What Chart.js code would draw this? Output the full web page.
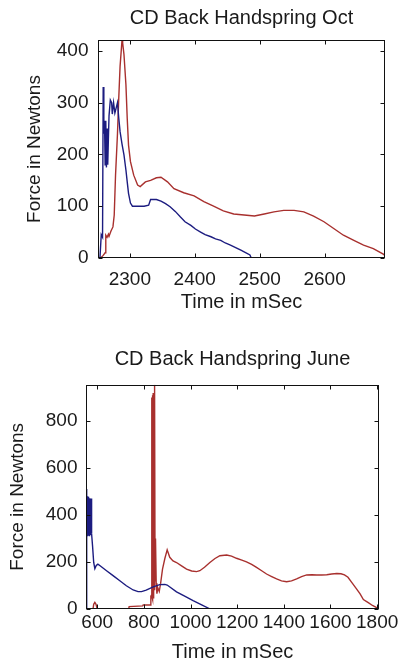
<!DOCTYPE html>
<html>
<head>
<meta charset="utf-8">
<script src="https://cdn.jsdelivr.net/npm/chart.js@4"></script>
<style>
  body { margin: 0; background: #fff; }
  canvas { display: block; }
</style>
</head>
<body>
<canvas id="octChart" width="401" height="333"></canvas>
<canvas id="junChart" width="401" height="333"></canvas>
<script>
// --- October trial ---
const octXTicks = [2300, 2400, 2500, 2600];
const octYTicks = [0, 100, 200, 300, 400];

const octBlueTime = [2254, 2256, 2258, 2259, 2260, 2261, 2262, 2263, 2264, 2265, 2266, 2267, 2268, 2270, 2272, 2273, 2275, 2277, 2279, 2281,
  2283, 2285, 2288, 2291, 2294, 2296, 2298, 2301, 2304, 2313, 2322, 2329, 2332, 2341, 2348, 2355, 2362, 2370, 2378, 2385,
  2394, 2401, 2409, 2416, 2425, 2432, 2440, 2447, 2455, 2463, 2471, 2479, 2485, 2487];
const octBlueForce = [0, 45, 40, 330, 240, 265, 180, 265, 175, 250, 180, 230, 275, 305, 300, 278, 300, 280, 290, 300,
  270, 244, 220, 199, 170, 147, 125, 106, 100, 100, 100, 102, 113, 113, 110, 105, 99, 90, 79, 70,
  63, 56, 50, 45, 41, 37, 34, 29, 25, 20, 15, 10, 6, 0];

const octRedTime = [2255, 2259, 2262, 2263, 2265, 2267, 2268, 2271, 2274, 2276, 2278, 2281, 2283, 2285, 2288, 2289, 2291, 2294, 2296, 2298,
  2301, 2306, 2312, 2316, 2324, 2332, 2341, 2348, 2358, 2368, 2383, 2399, 2414, 2429, 2444, 2460, 2476, 2492, 2507, 2522,
  2537, 2553, 2568, 2583, 2599, 2614, 2629, 2645, 2660, 2675, 2691, 2693];
const octRedForce = [0, 5, 10, 44, 40, 46, 42, 52, 60, 83, 160, 240, 310, 370, 421, 415, 393, 335, 270, 218,
  186, 160, 141, 138, 147, 150, 155, 156, 147, 134, 126, 120, 109, 100, 91, 85, 83, 81, 85, 89,
  92, 92, 89, 81, 70, 57, 44, 34, 25, 18, 7, 4];

// --- June trial ---
const junXTicks = [600, 800, 1000, 1200, 1400, 1600, 1800];
const junYTicks = [0, 200, 400, 600, 800];

const junBlueTime = [552, 554, 555, 556, 557, 558, 559, 560, 561, 562, 563, 564, 565, 566, 567, 568, 569, 570, 571, 572,
  573, 574, 575, 577, 580, 585, 590, 596, 603, 611, 640, 668, 697, 725, 754, 775, 790, 810, 840, 868,
  890, 900, 940, 975, 1011, 1050, 1080, 1083];
const junBlueForce = [0, 0, 511, 330, 480, 315, 475, 310, 478, 312, 470, 315, 472, 310, 470, 315, 468, 318, 470, 320,
  465, 330, 470, 320, 270, 198, 172, 185, 191, 185, 163, 142, 120, 99, 81, 74, 74, 80, 94, 104,
  105, 102, 73, 55, 36, 17, 2, 0];

const junRedTime = [552, 582, 585, 590, 595, 600, 735, 737, 795, 797, 828, 830, 833,
  834, 835, 836, 837, 838, 839, 840, 841, 842, 843, 844, 845, 846, 847, 848, 850,
  853, 856, 860, 866, 872, 880, 890, 900, 911, 925, 940, 960, 983, 1005, 1026, 1040, 1060, 1083, 1105, 1126,
  1155, 1176, 1197, 1220, 1240, 1262, 1283, 1305, 1326, 1348, 1369, 1390, 1412, 1433, 1455, 1476, 1498, 1520, 1541, 1562,
  1584, 1605, 1627, 1645, 1660, 1675, 1691, 1710, 1727, 1741, 1762, 1780, 1798, 1808];
const junRedForce = [0, 0, 20, 28, 20, 0, 0, 10, 13, 17, 17, 55, 60,
  900, 50, 910, 40, 905, 60, 920, 45, 915, 70, 910, 80, 900, 955, 120, 300,
  110, 65, 90, 75, 110, 170, 215, 252, 220, 205, 198, 185, 170, 162, 159, 163, 178, 198, 215, 227,
  230, 225, 216, 208, 201, 190, 177, 163, 149, 138, 128, 120, 116, 120, 128, 138, 145, 146, 145, 145,
  146, 149, 151, 150, 145, 135, 113, 88, 64, 40, 27, 15, 6, 2];

const BLUE = '#1c1c80';
const RED = '#a8302e';

Chart.defaults.font.family = '"Liberation Sans", Arial, Helvetica, sans-serif';
Chart.defaults.color = '#1a1a1a';

// MATLAB-like box with inward ticks on all four sides
const boxTicks = {
  id: 'boxTicks',
  afterDraw(chart) {
    const { ctx, chartArea: a, scales: { x, y } } = chart;
    const L = Math.round(a.left) + 0.5, R = Math.round(a.right) - 0.5;
    const T = Math.round(a.top) + 0.5, B = Math.round(a.bottom) - 0.5;
    const len = 4;
    ctx.save();
    ctx.strokeStyle = '#111';
    ctx.lineWidth = 1;
    ctx.strokeRect(L, T, R - L, B - T);
    ctx.beginPath();
    x.ticks.forEach(t => {
      const px = Math.round(x.getPixelForValue(t.value)) + 0.5;
      ctx.moveTo(px, B); ctx.lineTo(px, B - len);
      ctx.moveTo(px, T); ctx.lineTo(px, T + len);
    });
    y.ticks.forEach(t => {
      const py = Math.round(y.getPixelForValue(t.value)) + 0.5;
      ctx.moveTo(L, py); ctx.lineTo(L + len, py);
      ctx.moveTo(R, py); ctx.lineTo(R - len, py);
    });
    ctx.stroke();
    ctx.restore();
  }
};

function makeChart(id, c) {
  const toXY = (ts, fs) => ts.map((t, i) => ({ x: t, y: fs[i] }));
  const plain = v => String(v);
  return new Chart(document.getElementById(id), {
    type: 'scatter',
    data: {
      datasets: c.series.map(s => ({
        data: toXY(s.time, s.force),
        borderColor: s.color,
        borderWidth: 1.4,
        showLine: true,
        pointRadius: 0,
        tension: 0,
        fill: false
      }))
    },
    options: {
      responsive: false,
      animation: false,
      layout: { padding: c.padding },
      plugins: {
        legend: { display: false },
        tooltip: { enabled: false },
        title: {
          display: true,
          text: c.title,
          fullSize: false,
          font: { size: 20, weight: 'normal' },
          color: '#1a1a1a',
          padding: c.titlePad
        }
      },
      scales: {
        x: {
          type: 'linear',
          min: c.xMin,
          max: c.xMax,
          afterBuildTicks: s => { s.ticks = c.xTicks.map(v => ({ value: v })); },
          afterFit: s => { s.height = c.xHeight; },
          ticks: { autoSkip: false, maxRotation: 0, padding: c.xTickPad, font: { size: 19 }, callback: plain },
          grid: { display: false, drawTicks: false },
          border: { display: false },
          title: { display: true, text: 'Time in mSec', font: { size: 20 }, padding: { top: 0, bottom: 0 } }
        },
        y: {
          type: 'linear',
          min: 0,
          max: c.yMax,
          afterBuildTicks: s => { s.ticks = c.yTicks.map(v => ({ value: v })); },
          afterFit: s => { s.width = c.yWidth; },
          ticks: { padding: c.yTickPad, font: { size: 19 }, callback: plain },
          grid: { display: false, drawTicks: false },
          border: { display: false },
          title: { display: true, text: 'Force in Newtons', font: { size: 19 }, padding: { top: c.yTitlePad, bottom: 0 } }
        }
      }
    },
    plugins: [boxTicks]
  });
}

makeChart('octChart', {
  title: 'CD Back Handspring Oct',
  xMin: 2251, xMax: 2693, yMax: 421,
  xTicks: octXTicks, yTicks: octYTicks,
  series: [
    { time: octBlueTime, force: octBlueForce, color: BLUE },
    { time: octRedTime, force: octRedForce, color: RED }
  ],
  padding: { left: 0, right: 16, top: 0, bottom: 19 },
  titlePad: { top: 6, bottom: 10 },
  yWidth: 98, xHeight: 56,
  xTickPad: 10, yTickPad: 9.5, yTitlePad: 23.6
});

makeChart('junChart', {
  title: 'CD Back Handspring June',
  xMin: 552, xMax: 1808, yMax: 955,
  xTicks: junXTicks, yTicks: junYTicks,
  series: [
    { time: junBlueTime, force: junBlueForce, color: BLUE },
    { time: junRedTime, force: junRedForce, color: RED }
  ],
  padding: { left: 0, right: 22, top: 0, bottom: 2 },
  titlePad: { top: 14.7, bottom: 13 },
  yWidth: 86, xHeight: 55,
  xTickPad: 2, yTickPad: 8.5, yTitlePad: 6.6
});
</script>
</body>
</html>
